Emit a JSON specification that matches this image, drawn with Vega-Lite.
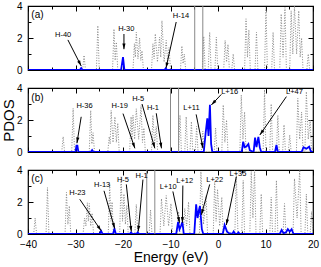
{
"$schema": "https://vega.github.io/schema/vega-lite/v6.json",
"background": "white",
"padding": {"left": 0, "top": 0, "right": 5, "bottom": 0},
"spacing": 18,
"bounds": "flush",
"config": {
  "view": {"stroke": "black", "strokeWidth": 1.2},
  "axis": {"grid": false, "domain": false, "minExtent": 0, "labelFlush": false, "labelOverlap": false, "tickColor": "black", "tickWidth": 1, "labelColor": "black", "labelFont": "Liberation Sans", "labelFontSize": 10, "titleFont": "Liberation Sans", "titleFontSize": 14, "titleFontWeight": "normal", "titleColor": "black"},
  "text": {"font": "Liberation Sans", "color": "black"}
},
"datasets": {
  "ga": [{"e":-40,"d":0},{"e":-28.5,"d":0},{"e":-28.2,"d":0.92},{"e":-27.9,"d":0},{"e":-25.6,"d":0},{"e":-25.3,"d":2.77},{"e":-25.0,"d":0},{"e":-22.2,"d":0},{"e":-21.9,"d":2.56},{"e":-21.65,"d":0.6},{"e":-21.4,"d":1.74},{"e":-21.1,"d":0},{"e":-17.9,"d":0},{"e":-17.6,"d":1.64},{"e":-17.4,"d":0.8},{"e":-17.2,"d":2.36},{"e":-16.85,"d":0.7},{"e":-16.5,"d":2.0},{"e":-16.25,"d":0.6},{"e":-16.0,"d":1.2},{"e":-15.7,"d":0},{"e":-14.0,"d":0},{"e":-13.7,"d":1.64},{"e":-13.45,"d":0.7},{"e":-13.2,"d":2.26},{"e":-12.75,"d":0.5},{"e":-12.3,"d":2.05},{"e":-12.05,"d":0.8},{"e":-11.8,"d":3.08},{"e":-11.35,"d":0.5},{"e":-10.9,"d":1.85},{"e":-10.6,"d":0.5},{"e":-10.3,"d":1.4},{"e":-10.0,"d":0},{"e":-7.9,"d":0},{"e":-7.6,"d":1.5},{"e":-7.35,"d":0.4},{"e":-7.1,"d":1.0},{"e":-6.8,"d":0},{"e":-3.3,"d":0},{"e":-3.0,"d":2.1},{"e":-2.7,"d":0},{"e":-2.05,"d":0},{"e":-1.75,"d":2.36},{"e":-1.45,"d":0},{"e":-0.65,"d":0},{"e":-0.35,"d":2.05},{"e":-0.05,"d":0},{"e":1.2,"d":0},{"e":1.5,"d":1.85},{"e":1.8,"d":0.5},{"e":2.1,"d":1.6},{"e":2.4,"d":0},{"e":2.9,"d":0},{"e":3.2,"d":1.0},{"e":3.5,"d":0},{"e":5.6,"d":0},{"e":5.9,"d":3.2},{"e":6.2,"d":0.8},{"e":6.5,"d":2.5},{"e":6.8,"d":0},{"e":7.8,"d":0},{"e":8.1,"d":2.36},{"e":8.4,"d":0},{"e":9.8,"d":0},{"e":10.1,"d":3.9},{"e":10.4,"d":0},{"e":11.3,"d":0},{"e":11.6,"d":2.36},{"e":11.9,"d":0},{"e":13.0,"d":0},{"e":13.3,"d":3.5},{"e":13.7,"d":0.8},{"e":14.1,"d":3.9},{"e":14.4,"d":0},{"e":15.1,"d":0},{"e":15.4,"d":3.7},{"e":15.75,"d":1.0},{"e":16.1,"d":4.0},{"e":16.55,"d":1.0},{"e":17.0,"d":3.7},{"e":17.3,"d":0.8},{"e":17.6,"d":2.0},{"e":17.9,"d":0},{"e":18.7,"d":0},{"e":19.0,"d":1.0},{"e":19.3,"d":0},{"e":20,"d":0}],
  "gb": [{"e":-40,"d":0},{"e":-32.9,"d":0},{"e":-32.6,"d":0.96},{"e":-32.3,"d":0},{"e":-30.8,"d":0},{"e":-30.5,"d":2.73},{"e":-30.2,"d":0},{"e":-27.1,"d":0},{"e":-26.8,"d":2.6},{"e":-26.55,"d":0.5},{"e":-26.3,"d":1.2},{"e":-26.0,"d":0},{"e":-23.2,"d":0},{"e":-22.9,"d":0.96},{"e":-22.7,"d":0.5},{"e":-22.5,"d":2.6},{"e":-22.1,"d":0.6},{"e":-21.7,"d":2.2},{"e":-21.4,"d":0.6},{"e":-21.1,"d":1.8},{"e":-20.8,"d":0},{"e":-18.6,"d":0},{"e":-18.3,"d":2.2},{"e":-18.1,"d":0.8},{"e":-17.9,"d":2.3},{"e":-17.55,"d":0.8},{"e":-17.2,"d":2.7},{"e":-16.7,"d":0.8},{"e":-16.2,"d":2.9},{"e":-15.9,"d":0.6},{"e":-15.6,"d":1.5},{"e":-15.3,"d":0},{"e":-14.0,"d":0},{"e":-13.7,"d":2.3},{"e":-13.35,"d":0.5},{"e":-13.0,"d":1.6},{"e":-12.7,"d":0},{"e":-8.3,"d":0},{"e":-8.0,"d":2.3},{"e":-7.7,"d":0},{"e":-7.0,"d":0},{"e":-6.7,"d":2.2},{"e":-6.4,"d":0},{"e":-5.9,"d":0},{"e":-5.6,"d":1.9},{"e":-5.3,"d":0},{"e":-4.8,"d":0},{"e":-4.5,"d":1.6},{"e":-4.2,"d":0},{"e":-3.5,"d":0},{"e":-3.2,"d":1.3},{"e":-2.9,"d":0},{"e":-0.8,"d":0},{"e":-0.5,"d":1.5},{"e":-0.2,"d":0},{"e":0.8,"d":0},{"e":1.1,"d":2.94},{"e":1.45,"d":0.6},{"e":1.8,"d":2.0},{"e":2.1,"d":0},{"e":4.6,"d":0},{"e":4.9,"d":3.56},{"e":5.25,"d":0.8},{"e":5.6,"d":2.5},{"e":5.9,"d":0},{"e":9.5,"d":0},{"e":9.8,"d":3.9},{"e":10.1,"d":0},{"e":10.9,"d":0},{"e":11.2,"d":3.0},{"e":11.5,"d":0},{"e":12.3,"d":0},{"e":12.6,"d":2.3},{"e":12.9,"d":0},{"e":13.6,"d":0},{"e":13.9,"d":1.7},{"e":14.2,"d":0},{"e":14.8,"d":0},{"e":15.1,"d":1.06},{"e":15.4,"d":0},{"e":16.5,"d":0},{"e":16.8,"d":3.35},{"e":17.2,"d":0.8},{"e":17.6,"d":2.5},{"e":17.9,"d":0},{"e":18.3,"d":0},{"e":18.6,"d":3.77},{"e":19.0,"d":0.8},{"e":19.4,"d":2.0},{"e":19.7,"d":0},{"e":20,"d":0}],
  "gc": [{"e":-40,"d":0},{"e":-38.8,"d":0},{"e":-38.5,"d":1.0},{"e":-38.2,"d":0},{"e":-36.2,"d":0},{"e":-35.9,"d":2.9},{"e":-35.6,"d":0},{"e":-32.2,"d":0},{"e":-31.9,"d":2.6},{"e":-31.6,"d":0.6},{"e":-31.3,"d":1.75},{"e":-31.0,"d":0},{"e":-28.4,"d":0},{"e":-28.1,"d":1.0},{"e":-27.8,"d":0.5},{"e":-27.5,"d":1.95},{"e":-27.3,"d":0.8},{"e":-27.1,"d":1.9},{"e":-26.8,"d":0.5},{"e":-26.5,"d":1.3},{"e":-26.2,"d":0},{"e":-23.1,"d":0},{"e":-22.8,"d":3.14},{"e":-22.55,"d":0.8},{"e":-22.3,"d":2.0},{"e":-22.0,"d":0},{"e":-20.7,"d":0},{"e":-20.4,"d":3.57},{"e":-20.1,"d":0.8},{"e":-19.8,"d":2.5},{"e":-19.5,"d":0.6},{"e":-19.2,"d":1.8},{"e":-18.9,"d":0},{"e":-17.5,"d":0},{"e":-17.2,"d":1.85},{"e":-16.9,"d":0},{"e":-14.5,"d":0},{"e":-14.2,"d":1.5},{"e":-13.9,"d":0},{"e":-12.2,"d":0},{"e":-11.9,"d":2.2},{"e":-11.4,"d":0.5},{"e":-10.9,"d":2.4},{"e":-10.4,"d":0.5},{"e":-9.9,"d":1.9},{"e":-9.6,"d":0},{"e":-8.6,"d":0},{"e":-8.3,"d":1.4},{"e":-8.0,"d":0},{"e":-7.3,"d":0},{"e":-7.0,"d":1.6},{"e":-6.6,"d":0.5},{"e":-6.2,"d":2.0},{"e":-5.9,"d":0},{"e":-3.9,"d":0},{"e":-3.6,"d":3.9},{"e":-3.05,"d":0.6},{"e":-2.5,"d":2.4},{"e":-2.2,"d":0},{"e":-1.0,"d":0},{"e":-0.7,"d":3.27},{"e":-0.4,"d":0.8},{"e":-0.1,"d":2.8},{"e":0.35,"d":0.5},{"e":0.8,"d":2.3},{"e":1.1,"d":0},{"e":3.55,"d":0},{"e":3.85,"d":3.8},{"e":4.2,"d":0},{"e":5.0,"d":0},{"e":5.3,"d":3.35},{"e":5.6,"d":0},{"e":6.7,"d":0},{"e":7.0,"d":3.9},{"e":7.35,"d":1.0},{"e":7.7,"d":4.0},{"e":8.0,"d":0},{"e":8.8,"d":0},{"e":9.1,"d":2.5},{"e":9.4,"d":0},{"e":10.9,"d":0},{"e":11.2,"d":2.3},{"e":11.5,"d":0},{"e":12.0,"d":0},{"e":12.3,"d":3.35},{"e":12.6,"d":0},{"e":13.7,"d":0},{"e":14.0,"d":1.9},{"e":14.3,"d":0},{"e":15.8,"d":0},{"e":16.1,"d":3.46},{"e":16.65,"d":1.0},{"e":17.2,"d":4.0},{"e":17.5,"d":0},{"e":18.3,"d":0},{"e":18.6,"d":2.5},{"e":18.9,"d":0},{"e":19.4,"d":0},{"e":19.7,"d":1.4},{"e":20,"d":0}],
  "ba": [{"e":-40,"d":0},{"e":-29.1,"d":0},{"e":-28.8,"d":0.12},{"e":-28.5,"d":0},{"e":-20.4,"d":0},{"e":-20.0,"d":0.8},{"e":-19.7,"d":0},{"e":-11.3,"d":0},{"e":-11.0,"d":0.1},{"e":-10.7,"d":0},{"e":20,"d":0}],
  "bb": [{"e":-40,"d":0},{"e":-30.0,"d":0},{"e":-29.8,"d":0.4},{"e":-29.6,"d":0.4},{"e":-29.4,"d":0},{"e":-26.8,"d":0},{"e":-26.5,"d":0.12},{"e":-26.2,"d":0},{"e":-3.0,"d":0},{"e":-2.6,"d":1.2},{"e":-2.25,"d":2.1},{"e":-2.0,"d":1.0},{"e":-1.7,"d":2.95},{"e":-1.45,"d":0.5},{"e":-1.2,"d":0},{"e":5.0,"d":0},{"e":5.3,"d":0.65},{"e":5.6,"d":0.3},{"e":6.0,"d":0.35},{"e":6.4,"d":0.5},{"e":6.7,"d":0.1},{"e":7.5,"d":0},{"e":7.8,"d":0.9},{"e":8.1,"d":0.3},{"e":8.5,"d":0.95},{"e":8.8,"d":0.3},{"e":9.1,"d":0},{"e":12.0,"d":0},{"e":12.3,"d":0.44},{"e":12.6,"d":0},{"e":17.6,"d":0},{"e":18.0,"d":0.3},{"e":18.6,"d":0.2},{"e":19.2,"d":0.33},{"e":19.6,"d":0},{"e":20,"d":0}],
  "bc": [{"e":-40,"d":0},{"e":-24.9,"d":0},{"e":-24.6,"d":0.18},{"e":-24.3,"d":0},{"e":-22.1,"d":0},{"e":-21.8,"d":0.32},{"e":-21.5,"d":0},{"e":-18.6,"d":0},{"e":-18.3,"d":0.1},{"e":-18.0,"d":0},{"e":-17.2,"d":0},{"e":-16.9,"d":0.1},{"e":-16.6,"d":0},{"e":-8.8,"d":0},{"e":-8.4,"d":0.75},{"e":-8.1,"d":0.3},{"e":-7.8,"d":0.5},{"e":-7.5,"d":0.75},{"e":-7.2,"d":0},{"e":-5.0,"d":0},{"e":-4.6,"d":1.85},{"e":-4.3,"d":1.0},{"e":-4.0,"d":1.5},{"e":-3.8,"d":1.75},{"e":-3.4,"d":0.3},{"e":-3.1,"d":0},{"e":1.0,"d":0},{"e":1.4,"d":0.56},{"e":1.9,"d":0.15},{"e":2.3,"d":0.05},{"e":3.0,"d":0},{"e":3.3,"d":0.15},{"e":3.6,"d":0},{"e":4.0,"d":0},{"e":4.3,"d":0.1},{"e":4.6,"d":0},{"e":13.0,"d":0},{"e":13.4,"d":0.25},{"e":13.8,"d":0.05},{"e":14.3,"d":0.1},{"e":14.7,"d":0.3},{"e":15.1,"d":0.15},{"e":15.5,"d":0.3},{"e":15.9,"d":0},{"e":20,"d":0}],
  "vl": [{"p":"a","e":-4.9},{"p":"a","e":-3.2},{"p":"b","e":-10.0},{"p":"b","e":-8.3},{"p":"c","e":-15.0},{"p":"c","e":-13.3}],
  "ann": [
    {"p":"a","label":"H-40","tx":-32.6,"ty":2.2,"sx":-31.6,"sy":1.88,"ex":-28.8,"ey":0.25},
    {"p":"a","label":"H-30","tx":-19.3,"ty":2.56,"sx":-19.8,"sy":2.25,"ex":-19.8,"ey":1.3},
    {"p":"a","label":"H-14","tx":-7.8,"ty":3.4,"sx":-8.8,"sy":3.0,"ex":-10.95,"ey":0.12},
    {"p":"b","label":"H-36","tx":-28.1,"ty":2.9,"sx":-28.8,"sy":2.2,"ex":-29.7,"ey":0.55},
    {"p":"b","label":"H-19","tx":-20.7,"ty":2.9,"sx":-20.0,"sy":2.4,"ex":-17.5,"ey":0.23},
    {"p":"b","label":"H-5","tx":-16.8,"ty":3.3,"sx":-16.0,"sy":3.0,"ex":-13.3,"ey":0.23},
    {"p":"b","label":"H-1","tx":-13.7,"ty":2.77,"sx":-13.0,"sy":2.42,"ex":-11.9,"ey":0.23},
    {"p":"b","label":"L+11","tx":-5.6,"ty":2.73,"sx":-4.6,"sy":2.35,"ex":-3.16,"ey":0.23},
    {"p":"b","label":"L+16","tx":2.45,"ty":3.77,"sx":0.7,"sy":3.6,"ex":-1.4,"ey":2.94},
    {"p":"b","label":"L+47","tx":16.1,"ty":3.77,"sx":14.4,"sy":3.46,"ex":8.8,"ey":1.06},
    {"p":"c","label":"H-23","tx":-29.6,"ty":2.54,"sx":-29.1,"sy":2.17,"ex":-24.6,"ey":0.2},
    {"p":"c","label":"H-13","tx":-24.4,"ty":3.08,"sx":-24.0,"sy":2.7,"ex":-21.75,"ey":0.34},
    {"p":"c","label":"H-5","tx":-20.0,"ty":3.35,"sx":-19.3,"sy":3.1,"ex":-18.25,"ey":0.15},
    {"p":"c","label":"H-1","tx":-16.1,"ty":3.6,"sx":-15.8,"sy":3.4,"ex":-16.8,"ey":0.15},
    {"p":"c","label":"L+10","tx":-10.5,"ty":2.92,"sx":-9.5,"sy":2.66,"ex":-8.1,"ey":0.7},
    {"p":"c","label":"L+12","tx":-7.0,"ty":3.3,"sx":-7.4,"sy":3.03,"ex":-7.5,"ey":0.7},
    {"p":"c","label":"L+22","tx":-0.7,"ty":3.35,"sx":-1.75,"sy":3.1,"ex":-3.5,"ey":1.2},
    {"p":"c","label":"L+35","tx":4.2,"ty":3.74,"sx":3.85,"sy":3.57,"ex":1.75,"ey":0.56}
  ],
  "pl": [{"p":"a","t":"(a)","x":-39.3,"y":3.45},{"p":"b","t":"(b)","x":-39.3,"y":3.35},{"p":"c","t":"(c)","x":-39.3,"y":3.45}]
},
"vconcat": [
 {"width": 285, "height": 64,
  "layer": [
   {"data": {"name": "ga"}, "mark": {"type": "line", "color": "#888888", "strokeWidth": 1, "strokeDash": [1, 1.6], "clip": true},
    "encoding": {"x": {"field": "e", "type": "quantitative", "scale": {"domain": [-40, 20], "nice": false, "zero": false}, "axis": {"orient": "bottom", "values": [-40,-30,-20,-10,0,10,20], "tickSize": -5, "labels": false, "title": null}},
                 "y": {"field": "d", "type": "quantitative", "scale": {"domain": [0, 4], "nice": false}, "axis": {"orient": "left", "values": [0,2,4], "tickSize": -5, "labelPadding": 11, "title": null}}}},
   {"data": {"name": "ba"}, "mark": {"type": "line", "color": "#0000ff", "strokeWidth": 1.8, "clip": true},
    "encoding": {"x": {"field": "e", "type": "quantitative", "scale": {"domain": [-40, 20], "nice": false, "zero": false}, "axis": {"orient": "top", "values": [-40,-30,-20,-10,0,10,20], "tickSize": -5, "labels": false, "title": null}},
                 "y": {"field": "d", "type": "quantitative", "scale": {"domain": [0, 4], "nice": false}, "axis": {"orient": "right", "values": [0,2,4], "tickSize": -5, "labels": false, "title": null}}}},
   {"data": {"name": "vl"}, "transform": [{"filter": "datum.p == 'a'"}], "mark": {"type": "rule", "color": "#888888", "strokeWidth": 1},
    "encoding": {"x": {"field": "e", "type": "quantitative", "scale": {"domain": [-40, 20], "nice": false, "zero": false}, "axis": {"orient": "bottom", "values": [-35,-25,-15,-5,5,15], "tickSize": -3, "labels": false, "title": null}}}},
   {"data": {"name": "ann"}, "transform": [{"filter": "datum.p == 'a'"}], "mark": {"type": "rule", "color": "black", "strokeWidth": 1},
    "encoding": {"x": {"field": "sx", "type": "quantitative", "scale": {"domain": [-40, 20], "nice": false, "zero": false}, "axis": {"orient": "top", "values": [-35,-25,-15,-5,5,15], "tickSize": -3, "labels": false, "title": null}},
                 "y": {"field": "sy", "type": "quantitative", "scale": {"domain": [0, 4], "nice": false}, "axis": {"orient": "left", "values": [1,3], "tickSize": -3, "labels": false, "title": null}},
                 "x2": {"field": "ex"}, "y2": {"field": "ey"}}},
   {"data": {"name": "ann"}, "transform": [{"filter": "datum.p == 'a'"}, {"calculate": "atan2((datum.ex - datum.sx) * 4.75, (datum.ey - datum.sy) * 16) * 180 / PI", "as": "ang"}],
    "mark": {"type": "point", "shape": "M0,0L-0.45,1.6L0.45,1.6Z", "filled": true, "color": "black", "opacity": 1, "size": 50, "strokeWidth": 0},
    "encoding": {"x": {"field": "ex", "type": "quantitative", "scale": {"domain": [-40, 20], "nice": false, "zero": false}, "axis": null},
                 "y": {"field": "ey", "type": "quantitative", "scale": {"domain": [0, 4], "nice": false}, "axis": {"orient": "right", "values": [1,3], "tickSize": -3, "labels": false, "title": null}},
                 "angle": {"field": "ang", "type": "quantitative", "scale": null}}},
   {"data": {"name": "ann"}, "transform": [{"filter": "datum.p == 'a'"}], "mark": {"type": "text", "fontSize": 7.5},
    "encoding": {"x": {"field": "tx", "type": "quantitative", "scale": {"domain": [-40, 20], "nice": false, "zero": false}, "axis": null},
                 "y": {"field": "ty", "type": "quantitative", "scale": {"domain": [0, 4], "nice": false}, "axis": null},
                 "text": {"field": "label"}}},
   {"data": {"name": "pl"}, "transform": [{"filter": "datum.p == 'a'"}], "mark": {"type": "text", "fontSize": 10, "align": "left"},
    "encoding": {"x": {"field": "x", "type": "quantitative", "scale": {"domain": [-40, 20], "nice": false, "zero": false}, "axis": null},
                 "y": {"field": "y", "type": "quantitative", "scale": {"domain": [0, 4], "nice": false}, "axis": null},
                 "text": {"field": "t"}}}
  ],
  "resolve": {"axis": {"x": "independent", "y": "independent"}}
 },
 {"width": 285, "height": 64,
  "layer": [
   {"data": {"name": "gb"}, "mark": {"type": "line", "color": "#888888", "strokeWidth": 1, "strokeDash": [1, 1.6], "clip": true},
    "encoding": {"x": {"field": "e", "type": "quantitative", "scale": {"domain": [-40, 20], "nice": false, "zero": false}, "axis": {"orient": "bottom", "values": [-40,-30,-20,-10,0,10,20], "tickSize": -5, "labels": false, "title": null}},
                 "y": {"field": "d", "type": "quantitative", "scale": {"domain": [0, 4], "nice": false}, "axis": {"orient": "left", "values": [0,2,4], "tickSize": -5, "labelPadding": 11, "title": "PDOS", "titlePadding": 0, "titleFontSize": 15}}}},
   {"data": {"name": "bb"}, "mark": {"type": "line", "color": "#0000ff", "strokeWidth": 1.8, "clip": true},
    "encoding": {"x": {"field": "e", "type": "quantitative", "scale": {"domain": [-40, 20], "nice": false, "zero": false}, "axis": {"orient": "top", "values": [-40,-30,-20,-10,0,10,20], "tickSize": -5, "labels": false, "title": null}},
                 "y": {"field": "d", "type": "quantitative", "scale": {"domain": [0, 4], "nice": false}, "axis": {"orient": "right", "values": [0,2,4], "tickSize": -5, "labels": false, "title": null}}}},
   {"data": {"name": "vl"}, "transform": [{"filter": "datum.p == 'b'"}], "mark": {"type": "rule", "color": "#888888", "strokeWidth": 1},
    "encoding": {"x": {"field": "e", "type": "quantitative", "scale": {"domain": [-40, 20], "nice": false, "zero": false}, "axis": {"orient": "bottom", "values": [-35,-25,-15,-5,5,15], "tickSize": -3, "labels": false, "title": null}}}},
   {"data": {"name": "ann"}, "transform": [{"filter": "datum.p == 'b'"}], "mark": {"type": "rule", "color": "black", "strokeWidth": 1},
    "encoding": {"x": {"field": "sx", "type": "quantitative", "scale": {"domain": [-40, 20], "nice": false, "zero": false}, "axis": {"orient": "top", "values": [-35,-25,-15,-5,5,15], "tickSize": -3, "labels": false, "title": null}},
                 "y": {"field": "sy", "type": "quantitative", "scale": {"domain": [0, 4], "nice": false}, "axis": {"orient": "left", "values": [1,3], "tickSize": -3, "labels": false, "title": null}},
                 "x2": {"field": "ex"}, "y2": {"field": "ey"}}},
   {"data": {"name": "ann"}, "transform": [{"filter": "datum.p == 'b'"}, {"calculate": "atan2((datum.ex - datum.sx) * 4.75, (datum.ey - datum.sy) * 16) * 180 / PI", "as": "ang"}],
    "mark": {"type": "point", "shape": "M0,0L-0.45,1.6L0.45,1.6Z", "filled": true, "color": "black", "opacity": 1, "size": 50, "strokeWidth": 0},
    "encoding": {"x": {"field": "ex", "type": "quantitative", "scale": {"domain": [-40, 20], "nice": false, "zero": false}, "axis": null},
                 "y": {"field": "ey", "type": "quantitative", "scale": {"domain": [0, 4], "nice": false}, "axis": {"orient": "right", "values": [1,3], "tickSize": -3, "labels": false, "title": null}},
                 "angle": {"field": "ang", "type": "quantitative", "scale": null}}},
   {"data": {"name": "ann"}, "transform": [{"filter": "datum.p == 'b'"}], "mark": {"type": "text", "fontSize": 7.5},
    "encoding": {"x": {"field": "tx", "type": "quantitative", "scale": {"domain": [-40, 20], "nice": false, "zero": false}, "axis": null},
                 "y": {"field": "ty", "type": "quantitative", "scale": {"domain": [0, 4], "nice": false}, "axis": null},
                 "text": {"field": "label"}}},
   {"data": {"name": "pl"}, "transform": [{"filter": "datum.p == 'b'"}], "mark": {"type": "text", "fontSize": 10, "align": "left"},
    "encoding": {"x": {"field": "x", "type": "quantitative", "scale": {"domain": [-40, 20], "nice": false, "zero": false}, "axis": null},
                 "y": {"field": "y", "type": "quantitative", "scale": {"domain": [0, 4], "nice": false}, "axis": null},
                 "text": {"field": "t"}}}
  ],
  "resolve": {"axis": {"x": "independent", "y": "independent"}}
 },
 {"width": 285, "height": 64,
  "layer": [
   {"data": {"name": "gc"}, "mark": {"type": "line", "color": "#888888", "strokeWidth": 1, "strokeDash": [1, 1.6], "clip": true},
    "encoding": {"x": {"field": "e", "type": "quantitative", "scale": {"domain": [-40, 20], "nice": false, "zero": false}, "axis": {"orient": "bottom", "values": [-40,-30,-20,-10,0,10,20], "tickSize": -5, "labelPadding": 10, "title": "Energy (eV)", "titlePadding": 1}},
                 "y": {"field": "d", "type": "quantitative", "scale": {"domain": [0, 4], "nice": false}, "axis": {"orient": "left", "values": [0,2,4], "tickSize": -5, "labelPadding": 11, "title": null}}}},
   {"data": {"name": "bc"}, "mark": {"type": "line", "color": "#0000ff", "strokeWidth": 1.8, "clip": true},
    "encoding": {"x": {"field": "e", "type": "quantitative", "scale": {"domain": [-40, 20], "nice": false, "zero": false}, "axis": {"orient": "top", "values": [-40,-30,-20,-10,0,10,20], "tickSize": -5, "labels": false, "title": null}},
                 "y": {"field": "d", "type": "quantitative", "scale": {"domain": [0, 4], "nice": false}, "axis": {"orient": "right", "values": [0,2,4], "tickSize": -5, "labels": false, "title": null}}}},
   {"data": {"name": "vl"}, "transform": [{"filter": "datum.p == 'c'"}], "mark": {"type": "rule", "color": "#888888", "strokeWidth": 1},
    "encoding": {"x": {"field": "e", "type": "quantitative", "scale": {"domain": [-40, 20], "nice": false, "zero": false}, "axis": {"orient": "bottom", "values": [-35,-25,-15,-5,5,15], "tickSize": -3, "labels": false, "title": null}}}},
   {"data": {"name": "ann"}, "transform": [{"filter": "datum.p == 'c'"}], "mark": {"type": "rule", "color": "black", "strokeWidth": 1},
    "encoding": {"x": {"field": "sx", "type": "quantitative", "scale": {"domain": [-40, 20], "nice": false, "zero": false}, "axis": {"orient": "top", "values": [-35,-25,-15,-5,5,15], "tickSize": -3, "labels": false, "title": null}},
                 "y": {"field": "sy", "type": "quantitative", "scale": {"domain": [0, 4], "nice": false}, "axis": {"orient": "left", "values": [1,3], "tickSize": -3, "labels": false, "title": null}},
                 "x2": {"field": "ex"}, "y2": {"field": "ey"}}},
   {"data": {"name": "ann"}, "transform": [{"filter": "datum.p == 'c'"}, {"calculate": "atan2((datum.ex - datum.sx) * 4.75, (datum.ey - datum.sy) * 16) * 180 / PI", "as": "ang"}],
    "mark": {"type": "point", "shape": "M0,0L-0.45,1.6L0.45,1.6Z", "filled": true, "color": "black", "opacity": 1, "size": 50, "strokeWidth": 0},
    "encoding": {"x": {"field": "ex", "type": "quantitative", "scale": {"domain": [-40, 20], "nice": false, "zero": false}, "axis": null},
                 "y": {"field": "ey", "type": "quantitative", "scale": {"domain": [0, 4], "nice": false}, "axis": {"orient": "right", "values": [1,3], "tickSize": -3, "labels": false, "title": null}},
                 "angle": {"field": "ang", "type": "quantitative", "scale": null}}},
   {"data": {"name": "ann"}, "transform": [{"filter": "datum.p == 'c'"}], "mark": {"type": "text", "fontSize": 7.5},
    "encoding": {"x": {"field": "tx", "type": "quantitative", "scale": {"domain": [-40, 20], "nice": false, "zero": false}, "axis": null},
                 "y": {"field": "ty", "type": "quantitative", "scale": {"domain": [0, 4], "nice": false}, "axis": null},
                 "text": {"field": "label"}}},
   {"data": {"name": "pl"}, "transform": [{"filter": "datum.p == 'c'"}], "mark": {"type": "text", "fontSize": 10, "align": "left"},
    "encoding": {"x": {"field": "x", "type": "quantitative", "scale": {"domain": [-40, 20], "nice": false, "zero": false}, "axis": null},
                 "y": {"field": "y", "type": "quantitative", "scale": {"domain": [0, 4], "nice": false}, "axis": null},
                 "text": {"field": "t"}}}
  ],
  "resolve": {"axis": {"x": "independent", "y": "independent"}}
 }
]
}
